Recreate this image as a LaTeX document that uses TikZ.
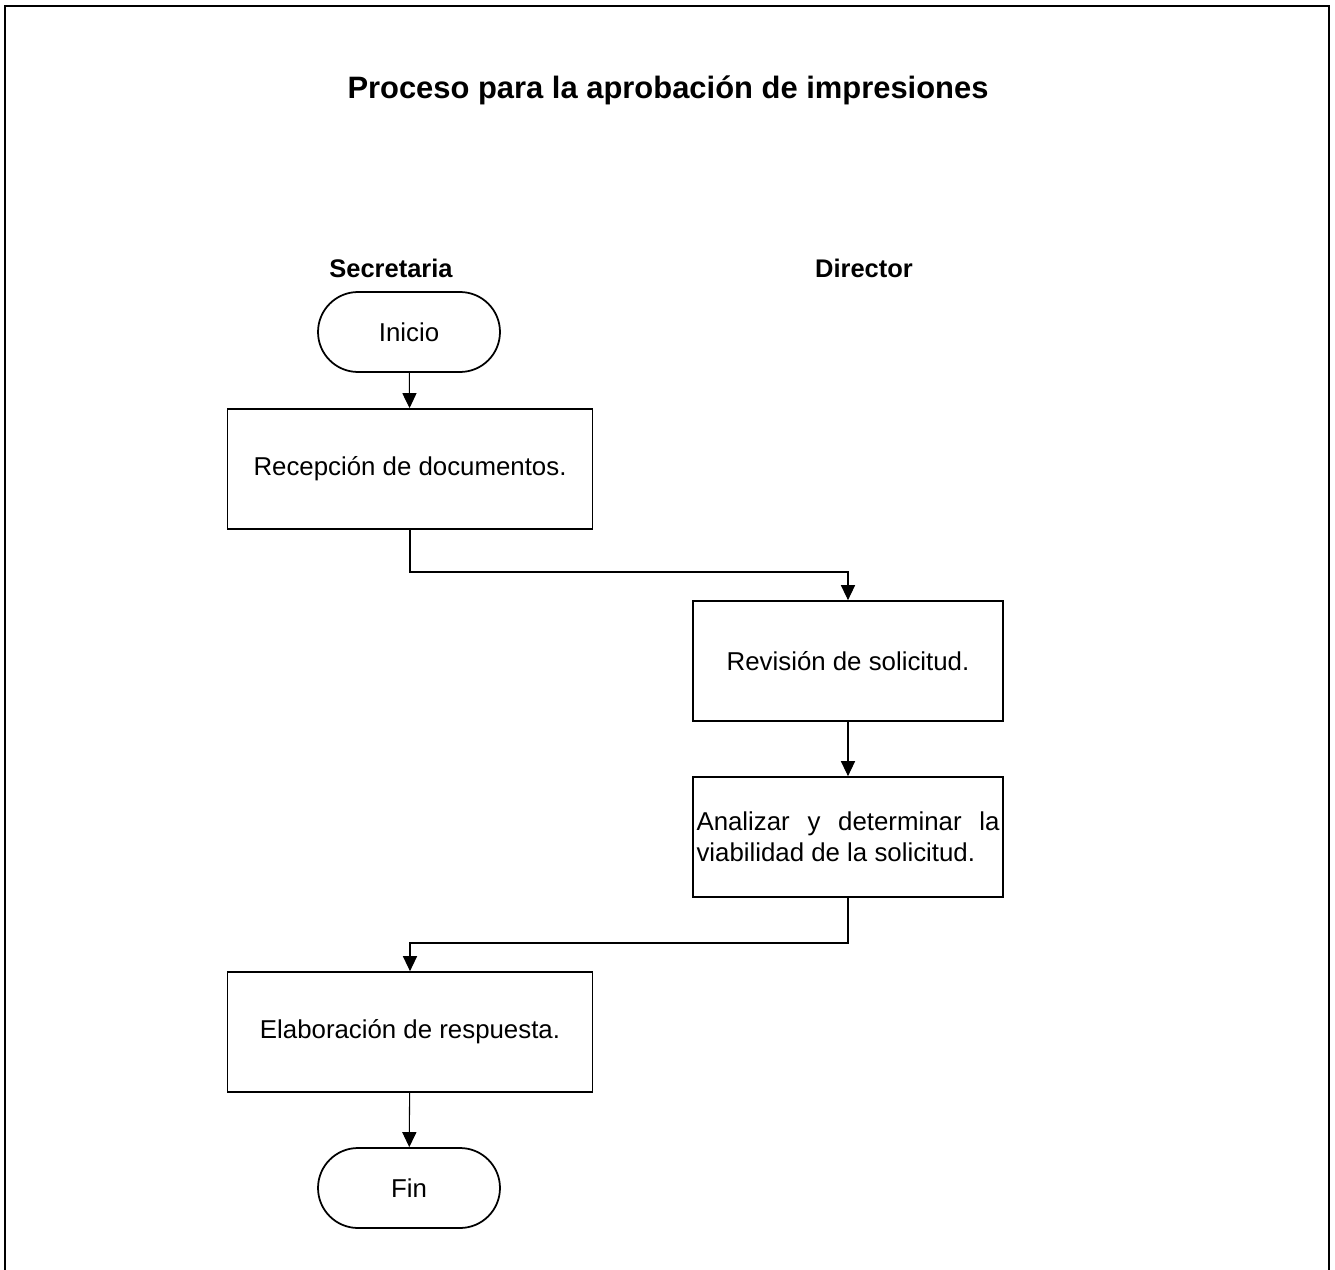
\documentclass[tikz,border=0pt]{standalone}
\usepackage{fontspec}
\setmainfont{Liberation Sans}
\usetikzlibrary{arrows.meta}

\tikzset{
  paso/.style={draw, line width=1pt, minimum width=7.3cm, minimum height=2.4cm, font=\fontsize{14.7}{17.6}\selectfont},
  terminal/.style={draw, line width=1pt, rounded corners=0.8cm, minimum width=3.64cm, minimum height=1.6cm, font=\fontsize{14.7}{17.6}\selectfont},
  flujo/.style={line width=0.6pt, -{Triangle[length=8.5pt, width=8pt]}},
  rol/.style={font=\fontsize{14.5}{17}\selectfont\bfseries}
}

\begin{document}
\begin{tikzpicture}[x=0.02cm, y=-0.02cm]
  \useasboundingbox (0,0) rectangle (1335,1270);
  % marco abierto por abajo
  \draw[line width=1.2pt] (5,1272) -- (5,6) -- (1329,6) -- (1329,1272);

  \node (titulo) at (668,90) {\fontsize{17.6}{21}\selectfont\bfseries Proceso para la aprobación de impresiones};
  \node[rol] (secre) at (391,268) {Secretaria};
  \node[rol] (direc) at (864,268) {Director};

  \node[terminal] (ini) at (409,332) {Inicio};
  \node[paso] (recep) at (410,469) {Recepción de documentos.};
  \node[paso, minimum width=6.2cm] (revis) at (848,661) {Revisión de solicitud.};
  \node[paso, minimum width=6.2cm, text width=6.06cm, inner xsep=0.07cm, align=justify] (anali) at (848,837) {Analizar y determinar la\linebreak viabilidad de la solicitud.};
  \node[paso] (elab) at (410,1032) {Elaboración de respuesta.};
  \node[terminal] (fin) at (409,1188) {Fin};

  \coordinate (k1) at (410,572);
  \coordinate (k2) at (848,943);

  \draw[flujo] (ini) -- (recep);
  \draw[flujo] (recep.south) -- (k1) -| (revis.north);
  \draw[flujo] (revis) -- (anali);
  \draw[flujo] (anali.south) -- (k2) -| (elab.north);
  \draw[flujo] (elab) -- (fin);
\end{tikzpicture}
\end{document}
